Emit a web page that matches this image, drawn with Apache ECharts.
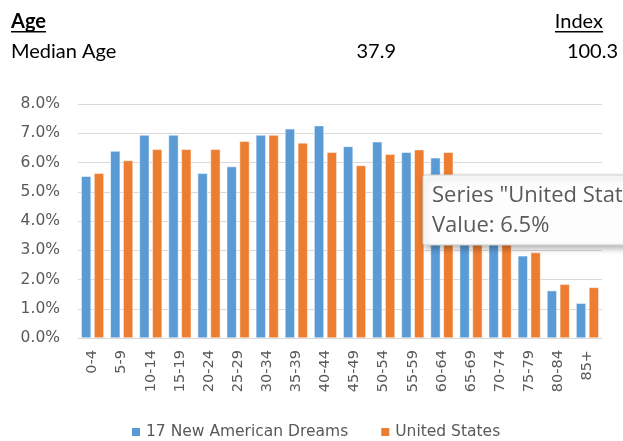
<!DOCTYPE html>
<html><head><meta charset="utf-8">
<script src="https://cdn.jsdelivr.net/npm/echarts@6/dist/echarts.min.js"></script>
<style>html,body{margin:0;padding:0;background:#fff}#c{width:623px;height:441px}</style>
</head><body><div id="c"></div>
<script>
var categories = ['0-4','5-9','10-14','15-19','20-24','25-29','30-34','35-39','40-44','45-49','50-54','55-59','60-64','65-69','70-74','75-79','80-84','85+'];
var dreams = [5.53,6.39,6.94,6.94,5.63,5.86,6.94,7.15,7.26,6.55,6.71,6.35,6.16,4.9,3.7,2.81,1.62,1.19];
var us = [5.63,6.07,6.45,6.45,6.45,6.73,6.94,6.67,6.35,5.90,6.28,6.44,6.35,5.1,3.8,2.92,1.84,1.73];
var yTicks = [0,1,2,3,4,5,6,7,8];
var seriesNames = ['17 New American Dreams','United States'];
var header = {left1:'Age', right1:'Index', row:'Median Age', value:'37.9', index:'100.3'};
var tipLines = ['Series "United States" Point "65-69"', 'Value: 6.5%'];

var chart = echarts.init(document.getElementById('c'), null, {renderer:'canvas'});
var axFont = 'DejaVu Sans, sans-serif';
var hdFont = 'Lato, Open Sans, sans-serif';
var tipFont = 'Open Sans, Noto Sans, sans-serif';
chart.setOption({
  animation:false,
  color:['#5B9BD5','#ED7D31'],
  grid:{left:78,right:21,top:104,bottom:103,containLabel:false},
  xAxis:{type:'category',data:categories,
    axisLine:{lineStyle:{color:'#d9d9d9'}},axisTick:{show:false},
    axisLabel:{rotate:90,interval:0,color:'#595959',fontSize:14.5,fontFamily:axFont,margin:12}},
  yAxis:{type:'value',min:yTicks[0],max:yTicks[yTicks.length-1],interval:1,
    axisLine:{show:false},axisTick:{show:false},
    splitLine:{lineStyle:{color:'#d9d9d9'}},
    axisLabel:{color:'#595959',fontSize:15.5,fontFamily:axFont,margin:18,formatter:function(v){return v.toFixed(1)+'%';}}},
  legend:{top:424,left:130,itemWidth:10,itemHeight:10,itemGap:31,icon:'rect',padding:0,
    textStyle:{color:'#595959',fontSize:15.5,fontFamily:axFont},data:seriesNames},
  series:[
    {name:seriesNames[0],type:'bar',data:dreams,barGap:'30%',barCategoryGap:'22%',itemStyle:{borderColor:'#fff',borderWidth:0.5}},
    {name:seriesNames[1],type:'bar',data:us,itemStyle:{borderColor:'#fff',borderWidth:0.5}}
  ],
  graphic:[
    {type:'text',style:{x:11,y:22,verticalAlign:'middle',text:header.left1,fontSize:20,fontWeight:'bold',fill:'#000',fontFamily:hdFont}},
    {type:'rect',shape:{x:11,y:31,width:35,height:1.5},style:{fill:'#000'}},
    {type:'text',style:{x:603,y:22,align:'right',verticalAlign:'middle',text:header.right1,fontSize:20,fill:'#000',fontFamily:hdFont}},
    {type:'rect',shape:{x:555,y:31,width:48,height:1.5},style:{fill:'#000'}},
    {type:'text',style:{x:11,y:52,verticalAlign:'middle',text:header.row,fontSize:20,fill:'#000',fontFamily:hdFont}},
    {type:'text',style:{x:396,y:52,align:'right',verticalAlign:'middle',text:header.value,fontSize:20,fill:'#000',fontFamily:hdFont}},
    {type:'text',style:{x:618,y:52,align:'right',verticalAlign:'middle',text:header.index,fontSize:20,fill:'#000',fontFamily:hdFont}},
    {type:'rect',z:100,shape:{x:423,y:175,width:240,height:70,r:2},
      style:{fill:'#fdfdfd',stroke:'#cfcfcf',lineWidth:1,shadowBlur:6,shadowOffsetX:2,shadowOffsetY:3,shadowColor:'rgba(0,0,0,0.3)'}},
    {type:'text',z:101,style:{x:432,y:196,verticalAlign:'middle',text:tipLines[0],fontSize:22,fill:'#5a5a5a',fontFamily:tipFont}},
    {type:'text',z:101,style:{x:432,y:226,verticalAlign:'middle',text:tipLines[1],fontSize:22,fill:'#5a5a5a',fontFamily:tipFont}}
  ]
});
</script></body></html>
